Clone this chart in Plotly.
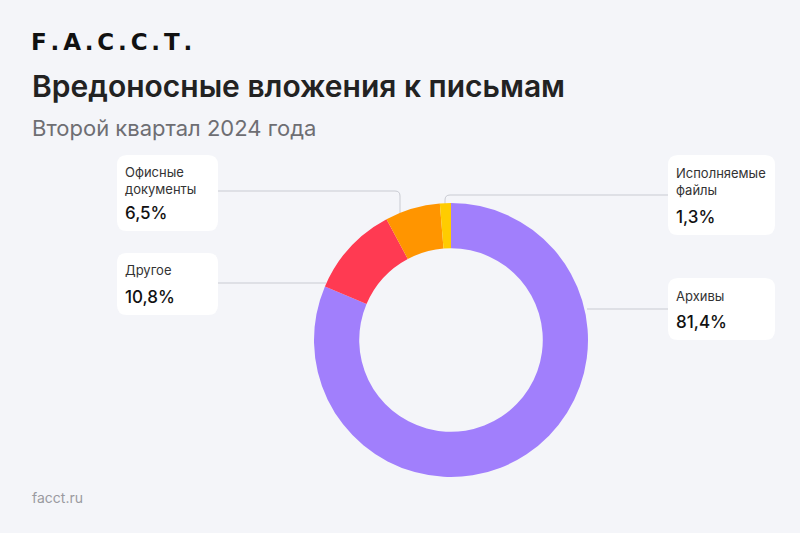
import plotly.graph_objects as go

W, H = 800, 533

categories = ["Архивы", "Другое", "Офисные документы", "Исполняемые файлы"]
values = [81.4, 10.8, 6.5, 1.3]
box_labels = ["Архивы", "Другое", "Офисные<br>документы", "Исполняемые<br>файлы"]
value_labels = ["81,4%", "10,8%", "6,5%", "1,3%"]
colors = ["#A17FFC", "#FF3A52", "#FF9500", "#FFCC00"]

title = "Вредоносные вложения к письмам"
subtitle = "Второй квартал 2024 года"
logo = "F.A.C.C.T."
footer = "facct.ru"

def px(x):
    return x / W

def py(y):
    return 1 - y / H

cx, cy, R = 451, 340, 137

fig = go.Figure()
fig.add_trace(go.Pie(
    labels=categories, values=values, sort=False, direction="clockwise",
    rotation=0, hole=0.67, marker=dict(colors=colors, line=dict(width=0)),
    textinfo="none", hoverinfo="label+percent", showlegend=False,
    domain=dict(x=[px(cx - R), px(cx + R)], y=[py(cy + R), py(cy - R)]),
))

shapes = []
line_col = "#C9CBD2"
conn_paths = [
    "M 587 309 H 669",
    "M 218 283 H 326",
    "M 218 191 H 395 Q 400 191 400 196 V 213",
    "M 669 195 H 450 Q 445 195 445 200 V 205",
]
for p in conn_paths:
    shapes.append(dict(type="path", path=p, xref="x", yref="y",
                       line=dict(color=line_col, width=1), layer="below"))

def rrect(x0, y0, x1, y1, r=10):
    return (f"M {x0+r} {y0} H {x1-r} Q {x1} {y0} {x1} {y0+r} V {y1-r} "
            f"Q {x1} {y1} {x1-r} {y1} H {x0+r} Q {x0} {y1} {x0} {y1-r} "
            f"V {y0+r} Q {x0} {y0} {x0+r} {y0} Z")

boxes = [
    (668, 278, 775, 340),
    (117, 253, 218, 315),
    (117, 155, 218, 231),
    (668, 155, 775, 235),
]
for b in boxes:
    shapes.append(dict(type="path", path=rrect(*b), xref="x", yref="y",
                       fillcolor="white", line=dict(width=0), layer="below"))

ann = []
label_pos = [(674, 296), (123, 270), (123, 180), (674, 181)]
value_pos = [(674, 322), (123, 297), (123, 213), (674, 217)]
for i in range(len(categories)):
    ann.append(dict(x=label_pos[i][0], y=label_pos[i][1], xref="x", yref="y",
                    text=box_labels[i], showarrow=False, xanchor="left", yanchor="middle",
                    align="left", font=dict(family="Inter", size=13, color="#333333")))
    ann.append(dict(x=value_pos[i][0], y=value_pos[i][1], xref="x", yref="y",
                    text=value_labels[i], showarrow=False, xanchor="left", yanchor="middle",
                    font=dict(family="Inter", size=17, color="#111111", weight=500)))

logo_spaced = "\u2006".join(logo)
ann.append(dict(x=29, y=42, xref="x", yref="y", text=logo_spaced, showarrow=False,
                xanchor="left", yanchor="middle",
                font=dict(family="DejaVu Sans", size=23, color="#111111", weight=700)))
ann.append(dict(x=30, y=86, xref="x", yref="y", text=title, showarrow=False,
                xanchor="left", yanchor="middle",
                font=dict(family="Inter", size=30, color="#222222", weight=600)))
ann.append(dict(x=30, y=128, xref="x", yref="y", text=subtitle, showarrow=False,
                xanchor="left", yanchor="middle",
                font=dict(family="Inter", size=22, color="#6E6E73")))
ann.append(dict(x=30, y=497, xref="x", yref="y", text=footer, showarrow=False,
                xanchor="left", yanchor="middle",
                font=dict(family="Inter", size=14, color="#9A9AA0")))

fig.update_layout(
    width=W, height=H, margin=dict(l=0, r=0, t=0, b=0),
    paper_bgcolor="#F4F5F9", plot_bgcolor="rgba(0,0,0,0)",
    xaxis=dict(range=[0, W], visible=False, fixedrange=True, domain=[0, 1]),
    yaxis=dict(range=[H, 0], visible=False, fixedrange=True, domain=[0, 1]),
    shapes=shapes, annotations=ann,
)

fig.write_html("out.html", config={"displayModeBar": False})
